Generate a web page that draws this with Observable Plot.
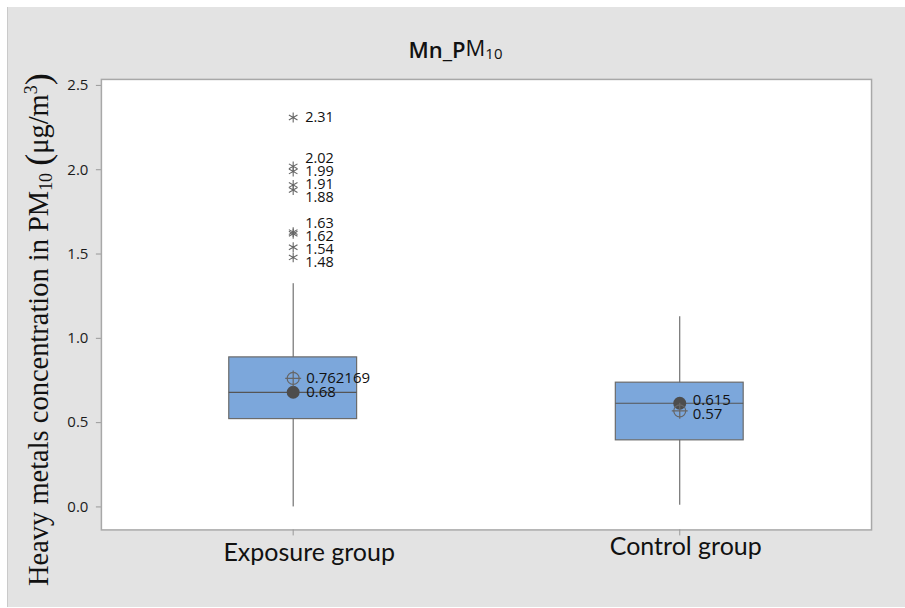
<!DOCTYPE html>
<html><head><meta charset="utf-8">
<script src="https://cdn.jsdelivr.net/npm/d3@7"></script>
<script src="https://cdn.jsdelivr.net/npm/@observablehq/plot@0.6"></script>
<style>
body{margin:0;background:#fff;}
#wrap{padding:7px 0 0 7px;width:898px;height:601px;}
#chart svg{display:block;background:#e3e3e3;border-left:1px solid #cacaca;box-sizing:border-box;}
</style></head><body><div id="wrap"><div id="chart"></div></div>
<script>
// ---- data ----
const groups = ["Exposure group", "Control group"];
const whiskerLow = [0.0, 0.01];
const q1 = [0.521, 0.395];
const median = [0.68, 0.615];
const q3 = [0.887, 0.737];
const whiskerHigh = [1.324, 1.128];
const mean = [0.762169, 0.57];
const meanLabels = ["0.762169", "0.57"];
const medianLabels = ["0.68", "0.615"];
const outlierGroup = "Exposure group";
const outlierValues = [2.31, 2.02, 1.99, 1.91, 1.88, 1.63, 1.62, 1.54, 1.48];
const outlierLabels = ["2.31", "2.02", "1.99", "1.91", "1.88", "1.63", "1.62", "1.54", "1.48"];
const yTicks = [0, 0.5, 1.0, 1.5, 2.0, 2.5];

// ---- layout ----
const W = 898, H = 601;
const M = {top: 72, right: 34, bottom: 78, left: 93};
const yDomain = [-0.1363, 2.5356];
const yPx = d3.scaleLinear().domain(yDomain).range([H - M.bottom, M.top]);

// simple label de-overlap (cluster-centred), returns data values
function dodge(vals, gap) {
  const items = vals.map((v, i) => ({i, t: yPx(v)})).sort((a, b) => a.t - b.t);
  const clusters = [];
  const place = c => {
    const m = d3.mean(c.items, d => d.t);
    c.start = m - (c.items.length - 1) / 2 * gap;
    c.end = c.start + (c.items.length - 1) * gap;
  };
  for (const it of items) {
    clusters.push({items: [it]});
    place(clusters[clusters.length - 1]);
    while (clusters.length > 1) {
      const a = clusters[clusters.length - 2], b = clusters[clusters.length - 1];
      if (a.end + gap > b.start) {
        a.items = a.items.concat(b.items);
        clusters.pop();
        place(a);
      } else break;
    }
  }
  const out = new Array(vals.length);
  for (const c of clusters) c.items.forEach((it, k) => out[it.i] = yPx.invert(c.start + k * gap));
  return out;
}

const boxes = groups.map((g, i) => ({
  group: g, lo: whiskerLow[i], q1: q1[i], med: median[i], q3: q3[i], hi: whiskerHigh[i],
  mean: mean[i], meanLabel: meanLabels[i], medLabel: medianLabels[i]
}));
boxes.forEach(b => {
  const [ym, yd] = dodge([b.mean, b.med], 14);
  b.meanLabelY = ym; b.medLabelY = yd;
});
const outLabelY = dodge(outlierValues, 13);
const outliers = outlierValues.map((v, i) => ({group: outlierGroup, v, label: outlierLabels[i], ly: outLabelY[i]}));

const sans = "'Open Sans', 'Noto Sans', sans-serif";
const plot = Plot.plot({
  width: W, height: H,
  marginTop: M.top, marginRight: M.right, marginBottom: M.bottom, marginLeft: M.left,
  style: {background: "#e3e3e3", fontFamily: sans, overflow: "visible"},
  x: {type: "band", domain: groups, paddingInner: 0.668, paddingOuter: 0.33, label: null},
  y: {domain: yDomain, label: null},
  marks: [
    Plot.frame({fill: "white", stroke: "#a8a8a8", strokeWidth: 1.5}),
    Plot.axisY({ticks: yTicks, tickFormat: d3.format(".1f"), tickSize: 5, tickPadding: 8,
      fontSize: 15, fontWeight: 500, stroke: "#999", color: "#1a1a1a"}),
    Plot.axisX({tickSize: 6, tickFormat: () => "", stroke: "#999"}),
    Plot.text([groups[0]], {x: d => d, text: d => d, frameAnchor: "bottom", dy: 31, dx: 16,
      fontSize: 25, fontFamily: "Lato, sans-serif", fill: "#111"}),
    Plot.text([groups[1]], {x: d => d, text: d => d, frameAnchor: "bottom", dy: 25, dx: 6,
      fontSize: 25, fontFamily: "Lato, sans-serif", fill: "#111"}),
    Plot.ruleX(boxes, {x: "group", y1: "lo", y2: "hi", stroke: "#555", strokeWidth: 1}),
    Plot.barY(boxes, {x: "group", y1: "q1", y2: "q3", fill: "#7ca7db", stroke: "#6b6b6b", strokeWidth: 1.2}),
    Plot.tickY(boxes, {x: "group", y: "med", stroke: "#555", strokeWidth: 1.2}),
    Plot.dot(boxes, {x: "group", y: "med", r: 6.5, fill: "#4d4d4d", stroke: "none"}),
    Plot.dot(boxes, {x: "group", y: "mean", r: 6, symbol: "circle", fill: "none", stroke: "#666", strokeWidth: 1.2}),
    Plot.dot(boxes, {x: "group", y: "mean", r: 5.2, symbol: "plus", stroke: "#666", strokeWidth: 1.2}),
    Plot.text(boxes, {x: "group", y: "meanLabelY", text: "meanLabel", textAnchor: "start", dx: 13, fontSize: 15, fill: "#111"}),
    Plot.text(boxes, {x: "group", y: "medLabelY", text: "medLabel", textAnchor: "start", dx: 13, fontSize: 15, fill: "#111"}),
    Plot.dot(outliers, {x: "group", y: "v", r: 4.7, symbol: "asterisk", stroke: "#666", strokeWidth: 1.1}),
    Plot.text(outliers, {x: "group", y: "ly", text: "label", textAnchor: "start", dx: 12, fontSize: 14.5, fill: "#111"})
  ]
});
document.getElementById("chart").appendChild(plot);

// title and y-axis label with sub/superscripts
const svg = d3.select(plot);
const title = svg.append("text").attr("x", 401).attr("y", 51)
  .attr("text-anchor", "start")
  .attr("font-family", sans).attr("fill", "#111");
title.append("tspan").attr("font-size", 22).attr("font-weight", 600).text("Mn_P");
title.append("tspan").attr("font-size", 22).attr("font-weight", 400).attr("dy", -2).text("M");
title.append("tspan").attr("font-size", 15).attr("dy", 3).text("10");

const yl = svg.append("text")
  .attr("transform", `translate(40,323) rotate(-90)`)
  .attr("text-anchor", "middle")
  .attr("font-family", "'Liberation Serif', 'Times New Roman', serif")
  .attr("font-size", 28.5).attr("fill", "#111");
yl.append("tspan").text("Heavy metals concentration in PM");
yl.append("tspan").attr("font-size", 18).attr("dy", 4).text("10");
yl.append("tspan").attr("dy", -4).text(" ");
yl.append("tspan").attr("font-size", 36).attr("dy", 2).text("(");
yl.append("tspan").attr("dy", -2).text("μg/m");
yl.append("tspan").attr("font-size", 18).attr("dy", -11).text("3");
yl.append("tspan").attr("font-size", 36).attr("dy", 13).text(")");
</script></body></html>
